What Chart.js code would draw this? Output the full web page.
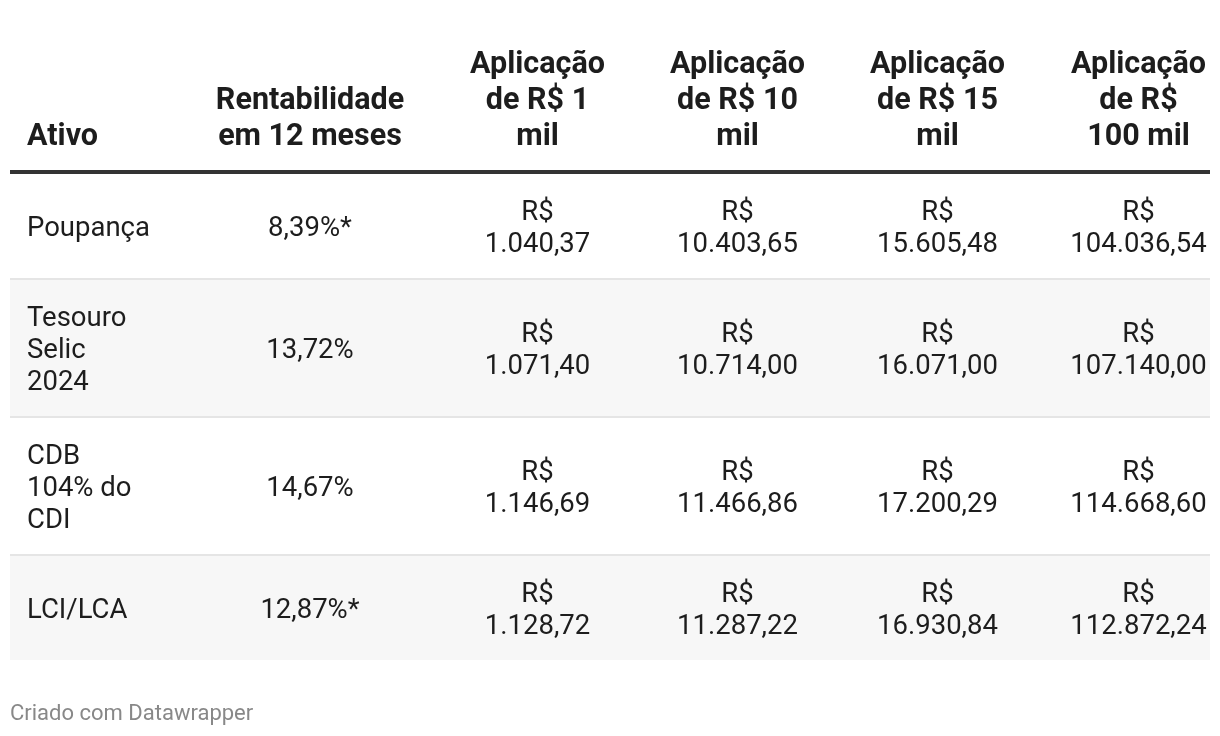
<!DOCTYPE html>
<html>
<head>
<meta charset="utf-8">
<script src="https://cdn.jsdelivr.net/npm/chart.js@4"></script>
<style>
  html, body { margin: 0; padding: 0; background: #fff; }
  canvas { display: block; }
</style>
</head>
<body>
<canvas id="myChart" width="1220" height="736"></canvas>
<script>
// table content
var headers = [
  ['Ativo'],
  ['Rentabilidade', 'em 12 meses'],
  ['Aplicação', 'de R$ 1', 'mil'],
  ['Aplicação', 'de R$ 10', 'mil'],
  ['Aplicação', 'de R$ 15', 'mil'],
  ['Aplicação', 'de R$', '100 mil'],
];
var assets = [
  ['Poupança'],
  ['Tesouro', 'Selic', '2024'],
  ['CDB', '104% do', 'CDI'],
  ['LCI/LCA'],
];
var rentabilidade = [8.39, 13.72, 14.67, 12.87];
var asterisco = [true, false, false, true];
var aplic1mil = [1040.37, 1071.40, 1146.69, 1128.72];
var aplic10mil = [10403.65, 10714.00, 11466.86, 11287.22];
var aplic15mil = [15605.48, 16071.00, 17200.29, 16930.84];
var aplic100mil = [104036.54, 107140.00, 114668.60, 112872.24];
var footer = 'Criado com Datawrapper';

// layout (pixels)
var colX = [27, 310, 537.5, 737.5, 937.5, 1138.5];
var tableLeft = 10, tableRight = 1210;
var headerBottom = 152, headerLine = 36;
var ruleTop = 170, ruleHeight = 4;
var lineH = 32, padY = 20, sepH = 2;

function fmtNum(v) {
  var parts = v.toFixed(2).split('.');
  var int = parts[0].replace(/\B(?=(\d{3})+(?!\d))/g, '.');
  return int + ',' + parts[1];
}
function moneyCell(v) {
  return ['R$', fmtNum(v)];
}

var rows = assets.map(function (a, i) {
  return [
    a,
    [fmtNum(rentabilidade[i]) + '%' + (asterisco[i] ? '*' : '')],
    moneyCell(aplic1mil[i]),
    moneyCell(aplic10mil[i]),
    moneyCell(aplic15mil[i]),
    moneyCell(aplic100mil[i]),
  ];
});

var tablePlugin = {
  id: 'table',
  beforeDraw: function (chart) {
    var ctx = chart.ctx;
    var x = chart.scales.x, y = chart.scales.y;
    var px = function (v) { return x.getPixelForValue(v); };
    var py = function (v) { return y.getPixelForValue(v); };

    ctx.save();
    ctx.textBaseline = 'middle';

    // header
    ctx.fillStyle = '#1d1d1d';
    ctx.font = 'bold 30.5px Roboto';
    headers.forEach(function (lines, c) {
      ctx.textAlign = c === 0 ? 'left' : 'center';
      var n = lines.length;
      lines.forEach(function (t, k) {
        var cy = headerBottom - 15 - (n - 1 - k) * headerLine;
        ctx.fillText(t, px(colX[c]), py(cy));
      });
    });

    // header rule
    ctx.fillStyle = '#333333';
    ctx.fillRect(px(tableLeft), py(ruleTop), px(tableRight) - px(tableLeft), py(ruleTop + ruleHeight) - py(ruleTop));

    // body rows
    var top = ruleTop + ruleHeight;
    rows.forEach(function (cells, r) {
      var nLines = Math.max.apply(null, cells.map(function (c) { return c.length; }));
      var h = nLines * lineH + padY * 2;
      if (r % 2 === 1) {
        ctx.fillStyle = '#f7f7f7';
        ctx.fillRect(px(tableLeft), py(top), px(tableRight) - px(tableLeft), py(top + h) - py(top));
      }
      var mid = top + h / 2;
      ctx.fillStyle = '#1d1d1d';
      ctx.font = '27.5px Roboto';
      cells.forEach(function (lines, c) {
        ctx.textAlign = c === 0 ? 'left' : 'center';
        var n = lines.length;
        lines.forEach(function (t, k) {
          var cy = mid + (k - (n - 1) / 2) * lineH + 3;
          ctx.fillText(t, px(colX[c]), py(cy));
        });
      });
      top += h;
      if (r < rows.length - 1) {
        ctx.fillStyle = '#e5e5e5';
        ctx.fillRect(px(tableLeft), py(top), px(tableRight) - px(tableLeft), py(top + sepH) - py(top));
        top += sepH;
      }
    });

    // footer
    ctx.fillStyle = '#888888';
    ctx.font = '22px Roboto';
    ctx.textAlign = 'left';
    ctx.fillText(footer, px(10), py(714));
    ctx.restore();
  }
};

var ctx = document.getElementById('myChart').getContext('2d');
var chart = new Chart(ctx, {
  type: 'bar',
  data: { labels: [], datasets: [] },
  options: {
    responsive: false,
    animation: false,
    events: [],
    layout: { padding: 0 },
    plugins: { legend: { display: false }, tooltip: { enabled: false } },
    scales: {
      x: { type: 'linear', min: 0, max: 1220, offset: false, display: false },
      y: { type: 'linear', min: 0, max: 736, reverse: true, offset: false, display: false },
    },
  },
  plugins: [tablePlugin],
});
</script>
</body>
</html>
